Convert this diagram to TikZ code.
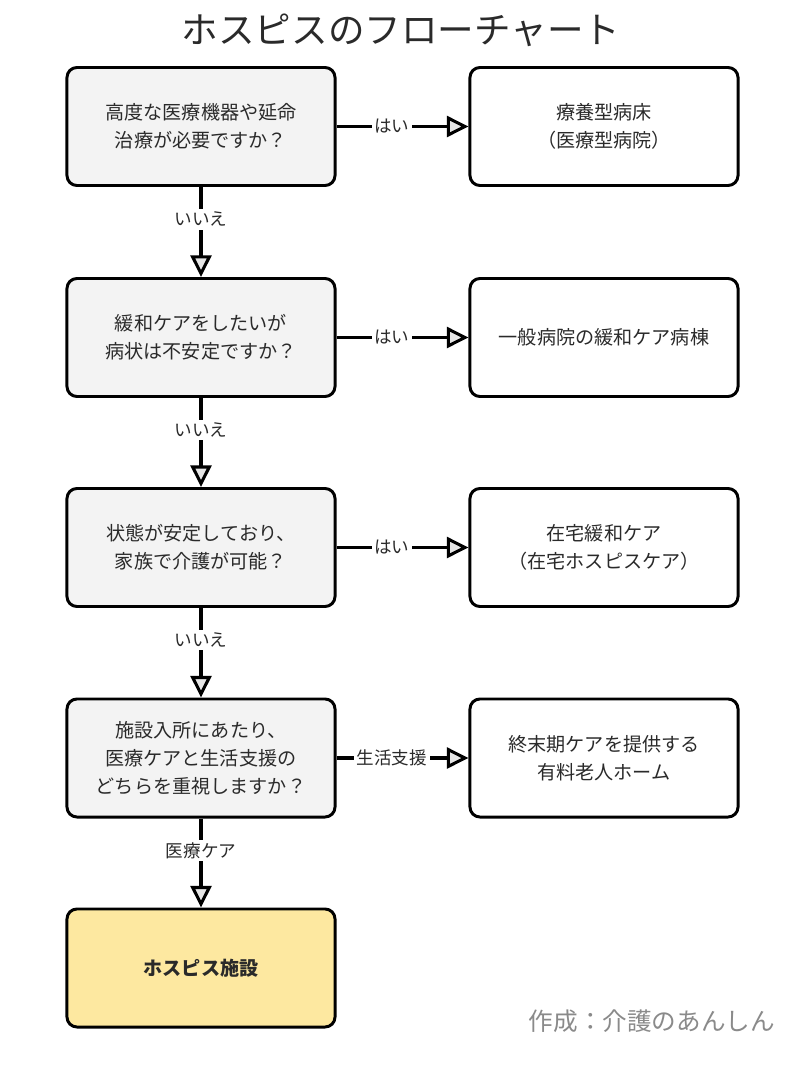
\documentclass[tikz,border=0pt]{standalone}
\usepackage{fontspec}
\setmainfont{Noto Sans CJK JP}
\usetikzlibrary{arrows.meta}
\definecolor{qfill}{HTML}{F3F3F3}
\definecolor{hfill}{HTML}{FDE8A0}
\definecolor{tipfill}{HTML}{E6E6E6}
\definecolor{txt}{HTML}{2A2A2A}
\definecolor{credit}{HTML}{8A8A8A}

\begin{document}
\begin{tikzpicture}[
    x=0.025cm,y=-0.025cm,
    box/.style={draw=black,line width=2.1pt,rounded corners=0.25cm,
        minimum width=6.7cm,minimum height=2.95cm,align=center,
        text=txt,font={\fontsize{13.6}{20}\selectfont}},
    question/.style={box,fill=qfill},
    answer/.style={box,fill=white},
    final/.style={box,fill=hfill,font={\fontsize{13.6}{20}\selectfont\bfseries}},
    flow/.style={line width=2.2pt,
        -{Triangle[length=5.4mm,width=5.2mm,fill=tipfill]}},
    lbl/.style={fill=white,inner sep=2pt,text=txt,
        font={\fontsize{12.5}{14}\selectfont}},
    ]
    \useasboundingbox (0,0) rectangle (809,1072);
    % Title
    \node[font={\fontsize{26}{30}\selectfont},text=txt] (title) at (401,30)
        {ホスピスのフローチャート};
    % Questions (left column)
    \node[question] (q1) at (201,126.5) {高度な医療機器や延命\\治療が必要ですか？};
    \node[question] (q2) at (201,337.5) {緩和ケアをしたいが\\病状は不安定ですか？};
    \node[question] (q3) at (201,547.5) {状態が安定しており、\\家族で介護が可能？};
    \node[question] (q4) at (201,758) {施設入所にあたり、\\医療ケアと生活支援の\\どちらを重視しますか？};
    \node[final] (hospice) at (201,968) {ホスピス施設};
    % Answers (right column)
    \node[answer] (a1) at (604,126.5) {療養型病床\\（医療型病院）};
    \node[answer] (a2) at (604,337.5) {一般病院の緩和ケア病棟};
    \node[answer] (a3) at (604,547.5) {在宅緩和ケア\\（在宅ホスピスケア）};
    \node[answer] (a4) at (604,758) {終末期ケアを提供する\\有料老人ホーム};
    % Yes branches
    \draw[flow] (q1) -- node[lbl,pos=0.42] {はい} (a1);
    \draw[flow] (q2) -- node[lbl,pos=0.42] {はい} (a2);
    \draw[flow] (q3) -- node[lbl,pos=0.42] {はい} (a3);
    \draw[flow] (q4) -- node[lbl,pos=0.42] {生活支援} (a4);
    % No branches
    \draw[flow] (q1) -- node[lbl,pos=0.36] {いいえ} (q2);
    \draw[flow] (q2) -- node[lbl,pos=0.36] {いいえ} (q3);
    \draw[flow] (q3) -- node[lbl,pos=0.36] {いいえ} (q4);
    \draw[flow] (q4) -- node[lbl,pos=0.36] {医療ケア} (hospice);
    % Credit
    \node[anchor=east,text=credit,font={\fontsize{17.5}{20}\selectfont}] (credit)
        at (780,1021) {作成：介護のあんしん};
\end{tikzpicture}
\end{document}
